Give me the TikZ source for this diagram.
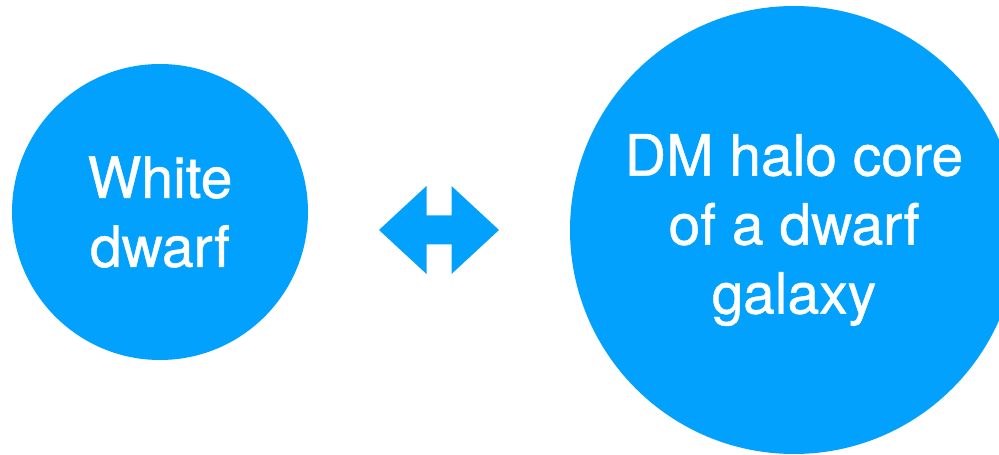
\documentclass[tikz,border=0pt]{standalone}
\usepackage{fontspec}
\newfontface\dmfont{TeX Gyre Heros}[FakeBold=0.8]
\usetikzlibrary{positioning}
\definecolor{dmBlue}{HTML}{03A1FE}
\tikzset{
  dm diagram/.style={
    x=1pt, y=1pt,
    every node/.style={font=\dmfont\fontsize{57}{69}\selectfont,
      text=white, align=center, inner sep=0pt, outer sep=0pt}
  },
  dm body/.style={circle, fill=dmBlue},
  dm swap/.style={fill=dmBlue}
}

\begin{document}
\begin{tikzpicture}[dm diagram]
    \useasboundingbox (0,0) rectangle (999,455);
    \clip (0,0) rectangle (999,455);
    \node[dm body, minimum size=296pt] (wd) at (160,243) {White\\dwarf};
    \node[dm body, minimum size=448pt] (core) at (794,225)
      {DM halo core\\of a dwarf\\galaxy};
    \coordinate (swap) at (439,225);
    \fill[dm swap, shift={(swap)}]
      (-60,0) -- (-12.5,44) -- (-12.5,14.5) -- (12.5,14.5) -- (12.5,44)
      -- (60,0) -- (12.5,-44) -- (12.5,-14.5) -- (-12.5,-14.5)
      -- (-12.5,-44) -- cycle;
  \end{tikzpicture}
\end{document}
